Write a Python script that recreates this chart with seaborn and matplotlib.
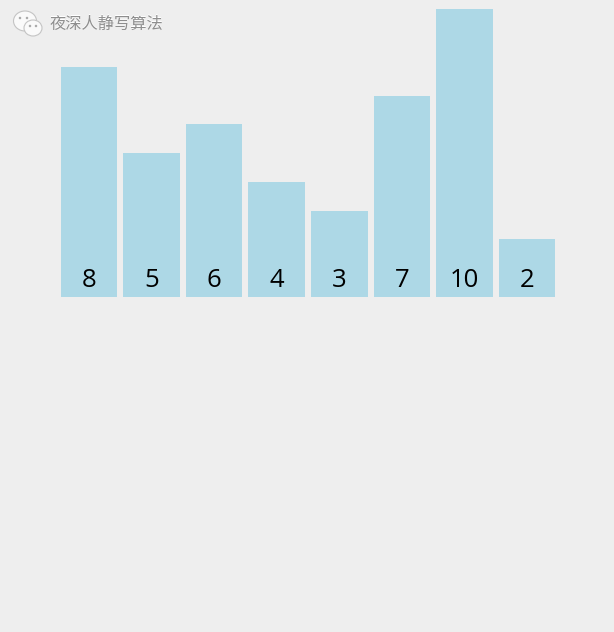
"""Bar array snapshot with value labels at the foot of each bar, plus watermark."""
import matplotlib
matplotlib.use("Agg")
import matplotlib.pyplot as plt
import pandas as pd
import seaborn as sns
from matplotlib.patches import Ellipse
from matplotlib.transforms import IdentityTransform

labels = ["8", "5", "6", "4", "3", "7", "10", "2"]
values = [8, 5, 6, 4, 3, 7, 10, 2]
watermark = "夜深人静写算法"

BG = "#EEEEEE"
BAR = "#ADD8E6"
W, H = 614, 632


def px(x, y):
    # picture coordinates (origin top left) to figure pixels
    return x, H - y


def main():
    sns.set_theme(style="white")
    plt.rcParams["font.family"] = ["Open Sans", "DejaVu Sans"]

    fig = plt.figure(figsize=(W / 100, H / 100), dpi=100, facecolor=BG)
    ax = fig.add_axes([0, 0, 1, 1], facecolor=BG)

    df = pd.DataFrame({"label": labels, "value": values})
    sns.barplot(df, x="label", y="value", order=labels, color=BAR, saturation=1,
                width=0.905, linewidth=0, ax=ax)

    # one slot is 62.57 px wide, one value unit 28.75 px tall
    ax.set_xlim(-89 / 62.57, (W - 89) / 62.57)
    ax.set_ylim(-(H - 296.8) / 28.75, 296.8 / 28.75)
    ax.set_axis_off()

    for i, lab in enumerate(labels):
        ax.text(i, 0.58, lab, ha="center", va="center", fontsize=18.5, color="black")

    # wechat style icon
    tr = IdentityTransform()
    icon_col = "#FAFAFA"
    for cx, cy, w, h in [(25, 21, 23, 20), (33, 28, 18, 16)]:
        e = Ellipse(px(cx, cy), w, h, transform=tr, facecolor=icon_col,
                    edgecolor="#C4C4C4", linewidth=0.8)
        fig.add_artist(e)
    for dx, dy in [(20, 18), (27, 18), (30, 26), (36, 26)]:
        fig.add_artist(Ellipse(px(dx, dy), 2.5, 2.5, transform=tr, facecolor="#AAAAAA",
                               edgecolor="none"))

    # watermark: white fringe up left, grey glyphs on top
    x0, y0 = px(50, 24)
    cjk = ["Noto Sans CJK SC", "DejaVu Sans"]
    fig.text((x0 - 0.8) / W, (y0 + 0.8) / H, watermark, family=cjk, fontsize=11.7,
             color="#FFFFFF", ha="left", va="center", fontweight="medium")
    fig.text(x0 / W, y0 / H, watermark, family=cjk, fontsize=11.7,
             color="#8E8E8E", ha="left", va="center", fontweight="medium")

    fig.savefig("out.png", dpi=100, facecolor=BG)
    plt.close(fig)


if __name__ == "__main__":
    main()
